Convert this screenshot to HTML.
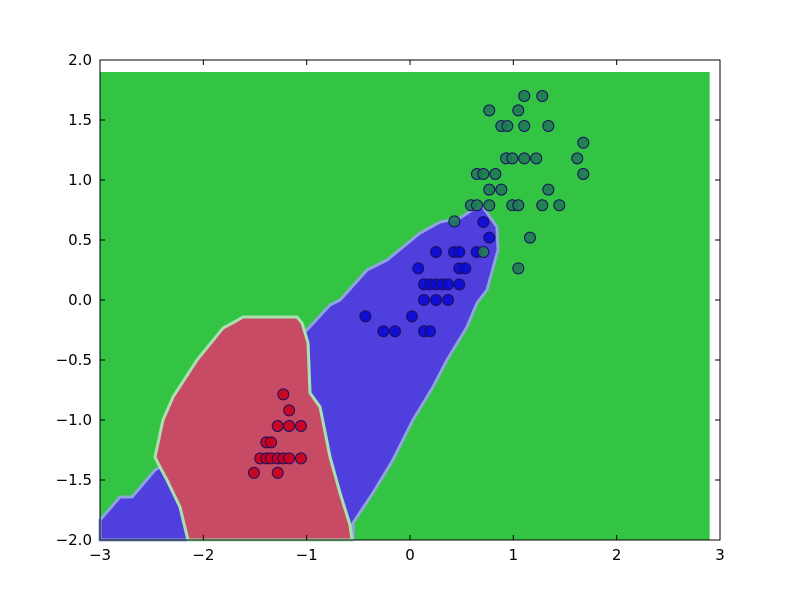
<!DOCTYPE html>
<html><head><meta charset="utf-8"><style>
html,body{margin:0;padding:0;background:#fff;width:800px;height:600px;overflow:hidden}
svg text{font-family:"DejaVu Sans","Liberation Sans",sans-serif;font-size:15px;fill:#000}
</style></head><body>
<svg id="chart" width="800" height="600" xmlns="http://www.w3.org/2000/svg">
<rect x="0" y="0" width="800" height="600" fill="#fff"/>
<g id="plot"></g>
<g id="axes"></g>
</svg>
<script>
// ---- data ----
const xTicks = [-3,-2,-1,0,1,2,3];
const yTicks = [-2.0,-1.5,-1.0,-0.5,0.0,0.5,1.0,1.5,2.0];
const gridExtentX = [-3, 2.9];
const gridExtentY = [-2, 1.9];
const blueRegion = [[-1.026,-0.275],[-0.774,-0.042],[-0.677,0],[-0.416,0.25],[-0.223,0.333],[0.097,0.558],[0.29,0.65],[0.484,0.683],[0.648,0.775],[0.706,0.775],[0.842,0.608],[0.852,0.417],[0.745,0.083],[0.648,-0.025],[0.552,-0.225],[0.358,-0.5],[0.223,-0.725],[0.029,-1.0],[-0.165,-1.333],[-0.358,-1.608],[-0.552,-1.858],[-0.552,-2],[-0.581,-1.875],[-0.677,-1.608],[-0.774,-1.308],[-0.871,-0.892],[-0.968,-0.775],[-0.987,-0.358],[-1.045,-0.192]];
const redRegion = [[-1.616,-0.142],[-1.094,-0.142],[-1.045,-0.192],[-0.987,-0.358],[-0.968,-0.775],[-0.871,-0.892],[-0.774,-1.308],[-0.677,-1.608],[-0.581,-1.875],[-0.561,-2],[-2.148,-2],[-2.226,-1.725],[-2.352,-1.5],[-2.419,-1.392],[-2.468,-1.308],[-2.39,-1.0],[-2.294,-0.808],[-2.061,-0.5],[-1.81,-0.233],[-1.7,-0.183]];
const blueRegionSmall = [[-3,-1.833],[-2.806,-1.642],[-2.69,-1.642],[-2.468,-1.417],[-2.419,-1.392],[-2.352,-1.5],[-2.226,-1.725],[-2.148,-2],[-3,-2]];
const redX = [-1.226,-1.17,-1.28,-1.17,-1.055,-1.39,-1.345,-1.45,-1.39,-1.345,-1.28,-1.226,-1.17,-1.055,-1.51,-1.28];
const redY = [-0.786,-0.92,-1.05,-1.05,-1.05,-1.186,-1.186,-1.32,-1.32,-1.32,-1.32,-1.32,-1.32,-1.32,-1.44,-1.44];
const blueX = [-0.432,0.019,-0.258,-0.145,0.135,0.194,0.135,0.252,0.368,0.135,0.194,0.252,0.31,0.368,0.477,0.08,0.477,0.535,0.252,0.426,0.477,0.645,0.767,0.71];
const blueY = [-0.136,-0.136,-0.26,-0.26,-0.26,-0.26,0,0,0,0.13,0.13,0.13,0.13,0.13,0.13,0.264,0.264,0.264,0.4,0.4,0.4,0.4,0.52,0.65];
const greenX = [0.43,0.71,1.161,1.048,0.59,0.648,0.767,0.99,1.048,1.28,1.445,0.767,0.884,1.339,0.648,0.71,0.826,1.677,0.93,0.99,1.106,1.222,1.619,1.677,0.884,0.942,1.106,1.339,0.767,1.048,1.106,1.28];
const greenY = [0.655,0.4,0.52,0.264,0.79,0.79,0.79,0.79,0.79,0.79,0.79,0.92,0.92,0.92,1.05,1.05,1.05,1.05,1.18,1.18,1.18,1.18,1.18,1.31,1.45,1.45,1.45,1.45,1.58,1.58,1.70,1.70];

// ---- axes ----
const L=100,R=720,T=60,B=540;
const sx = v => L + (v - (-3)) / 6 * (R - L);
const sy = v => B - (v - (-2)) / 4 * (B - T);
const NS="http://www.w3.org/2000/svg";
const plot=document.getElementById('plot'), axes=document.getElementById('axes');
function mk(tag, attrs, parent){const e=document.createElementNS(NS,tag);for(const k in attrs)e.setAttribute(k,attrs[k]);parent.appendChild(e);return e;}
const pts = arr => arr.map(p=>sx(p[0]).toFixed(1)+','+sy(p[1]).toFixed(1)).join(' ');

let g = mk('rect',{x:sx(gridExtentX[0]),y:sy(gridExtentY[1]),width:sx(gridExtentX[1])-sx(gridExtentX[0]),height:sy(gridExtentY[0])-sy(gridExtentY[1]),fill:'#33c443'},plot);


let p1 = mk('polygon',{points:pts(blueRegion),fill:'#4f3fdc',stroke:'#8ea4dc','stroke-width':3},plot);


let p2 = mk('polygon',{points:pts(blueRegionSmall),fill:'#4f3fdc',stroke:'#8ea4dc','stroke-width':3},plot);


let p3 = mk('polygon',{points:pts(redRegion),fill:'#c84b66',stroke:'#a8e0b0','stroke-width':3},plot);



function scatter(xs, ys, fill, name){
  for(let i=0;i<xs.length;i++){
    const c = mk('circle',{cx:sx(xs[i]),cy:sy(ys[i]),r:5.5,fill:fill,stroke:'#1a1060','stroke-width':1,'fill-opacity':0.9},plot);
    
    
  }
}
scatter(redX, redY, '#c8001e', 'red-point');
scatter(blueX, blueY, '#0a0ad2', 'blue-point');
scatter(greenX, greenY, '#1f7a55', 'green-point');

let fr = mk('rect',{x:L,y:T,width:R-L,height:B-T,fill:'none',stroke:'#000','stroke-width':1},axes);


xTicks.forEach(v=>{
  const x=sx(v);
  const a=mk('line',{x1:x,y1:B,x2:x,y2:B-5,stroke:'#000'},axes);
  
  
  const b=mk('line',{x1:x,y1:T,x2:x,y2:T+5,stroke:'#000'},axes);
  
  
  const t=mk('text',{x:x,y:B+20,'text-anchor':'middle'},axes);
  t.textContent = v<0 ? '\u2212'+Math.abs(v) : String(v);
  
  
});
yTicks.forEach(v=>{
  const y=sy(v);
  const a=mk('line',{x1:L,y1:y,x2:L+5,y2:y,stroke:'#000'},axes);
  
  
  const b=mk('line',{x1:R,y1:y,x2:R-5,y2:y,stroke:'#000'},axes);
  
  
  const t=mk('text',{x:L-8,y:y+5,'text-anchor':'end'},axes);
  t.textContent = (v<0?'\u2212':'')+Math.abs(v).toFixed(1);
  
  
});
</script>
</body></html>
